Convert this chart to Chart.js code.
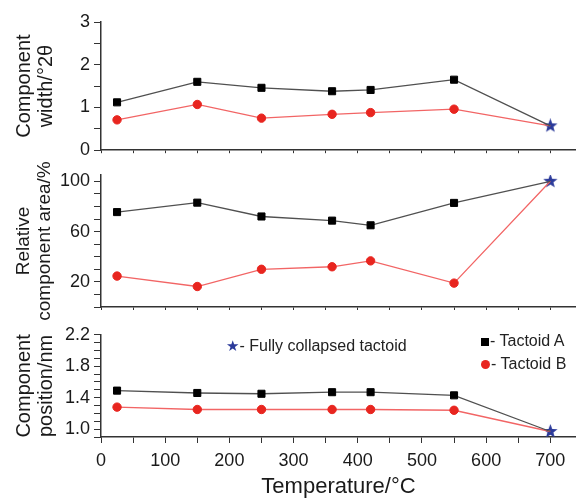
<!DOCTYPE html>
<html>
<head>
<meta charset="utf-8">
<script src="https://cdn.jsdelivr.net/npm/chart.js@4/dist/chart.umd.min.js"></script>
<style>
  body { margin: 0; width: 576px; height: 498px; position: relative; background: #fff; overflow: hidden;
         font-family: "Liberation Sans", Arial, sans-serif; }
  canvas { position: absolute; left: 0; }
  .leg { position: absolute; font-size: 16px; color: #222; white-space: nowrap; line-height: 18px; }
  .sq { display: inline-block; width: 8px; height: 8px; background: #000; margin-right: 1px; }
  .dot { display: inline-block; width: 9px; height: 9px; border-radius: 50%; background: #e8251f; margin-right: 1px; }
  .star { color: #2b3a9a; font-family: "DejaVu Sans"; font-size: 15px; }
</style>
</head>
<body>
<canvas id="c1" width="576" height="165" style="top:0"></canvas>
<canvas id="c2" width="576" height="175" style="top:150px"></canvas>
<canvas id="c3" width="576" height="178" style="top:320px"></canvas>

<div class="leg" style="left:226px; top:337px"><span class="star">★</span>- Fully collapsed tactoid</div>
<div class="leg" style="left:481px; top:332px"><span class="sq"></span>- Tactoid A</div>
<div class="leg" style="left:481px; top:355px"><span class="dot"></span>- Tactoid B</div>

<script>
// temperatures (°C), last point is the fully collapsed tactoid
const temps = [25, 150, 250, 360, 420, 550, 700];

const widthA = [1.12, 1.6, 1.46, 1.38, 1.41, 1.65, 0.57];
const widthB = [0.71, 1.07, 0.75, 0.84, 0.88, 0.96, 0.57];
const areaA = [75.5, 83, 72, 68.7, 65, 82.8, 100];
const areaB = [24.6, 16.3, 30, 32, 36.7, 19, 100];
const posA = [1.49, 1.46, 1.45, 1.47, 1.47, 1.43, 0.97];
const posB = [1.28, 1.25, 1.25, 1.25, 1.25, 1.24, 0.97];

// tick marks and labelled ticks
const tempTicks = [0, 50, 100, 150, 200, 250, 300, 350, 400, 450, 500, 550, 600, 650, 700];
const tempLabels = ["0", "100", "200", "300", "400", "500", "600", "700"];
const widthTicks = [0, 0.5, 1, 1.5, 2, 2.5, 3];
const widthLabels = ["0", "1", "2", "3"];
const areaTicks = [0, 10, 20, 30, 40, 50, 60, 70, 80, 90, 100];
const areaLabels = ["20", "60", "100"];
const posTicks = [0.9, 1.0, 1.1, 1.2, 1.3, 1.4, 1.5, 1.6, 1.7, 1.8, 1.9, 2.0, 2.1, 2.2];
const posLabels = ["1.0", "1.4", "1.8", "2.2"];

const FONT = "'Liberation Sans', Arial, sans-serif";
const INK = "#1a1a1a";

function makeStar(size, color) {
    const c = document.createElement("canvas");
    c.width = size; c.height = size;
    const g = c.getContext("2d");
    const r = size / 2, ri = r * 0.42;
    g.beginPath();
    for (let i = 0; i < 10; i++) {
        const a = -Math.PI / 2 + i * Math.PI / 5;
        const rr = i % 2 ? ri : r;
        g.lineTo(r + rr * Math.cos(a), r + rr * Math.sin(a));
    }
    g.closePath();
    g.fillStyle = color;
    g.fill();
    return c;
}
const starImg = makeStar(15, "#2b3a9a");

function pts(arr) {
    return temps.map((t, i) => ({ x: t, y: arr[i] }));
}

function buildChart(id, a, b, yMin, yMax, yTicks, yLabels, fmt, title, titleSize, top, xHeight, showX) {
    const last = temps.length - 1;
    const rA = temps.map((t, i) => (i === last ? 0 : 5));
    const rB = temps.map((t, i) => (i === last ? 0 : 4.2));
    return new Chart(document.getElementById(id), {
        type: "line",
        data: {
            datasets: [
                {
                    label: "Tactoid A",
                    data: pts(a),
                    borderColor: "#505050",
                    borderWidth: 1.3,
                    pointStyle: "rect",
                    pointRadius: rA,
                    pointBackgroundColor: "#000",
                    pointBorderColor: "#000",
                    pointBorderWidth: 1,
                },
                {
                    label: "Tactoid B",
                    data: pts(b),
                    borderColor: "#f26565",
                    borderWidth: 1.3,
                    pointStyle: "circle",
                    pointRadius: rB,
                    pointBackgroundColor: "#e8251f",
                    pointBorderColor: "#e8251f",
                    pointBorderWidth: 1,
                },
                {
                    label: "Fully collapsed tactoid",
                    data: [{ x: temps[last], y: a[last] }],
                    showLine: false,
                    pointStyle: starImg,
                    pointRadius: 7,
                },
            ],
        },
        options: {
            responsive: false,
            animation: false,
            layout: { autoPadding: false, padding: { top: top, left: 0, right: 0, bottom: 0 } },
            plugins: { legend: { display: false }, tooltip: { enabled: false } },
            scales: {
                x: {
                    type: "linear",
                    min: 0,
                    max: 740,
                    afterBuildTicks: (s) => { s.ticks = tempTicks.map((v) => ({ value: v })); },
                    afterFit: (s) => { s.height = xHeight; },
                    border: { display: true, color: "#333", width: 1.5 },
                    grid: { drawOnChartArea: false, tickLength: showX ? 6 : 3, color: "#333" },
                    ticks: {
                        display: showX,
                        autoSkip: false,
                        maxRotation: 0,
                        padding: 7,
                        color: INK,
                        font: { family: FONT, size: 18 },
                        callback: (v) => (tempLabels.includes(String(v)) ? String(v) : ""),
                    },
                    title: {
                        display: showX,
                        text: "Temperature/°C",
                        color: INK,
                        padding: 0,
                        font: { family: FONT, size: 22, lineHeight: 1 },
                    },
                },
                y: {
                    min: yMin,
                    max: yMax,
                    afterBuildTicks: (s) => { s.ticks = yTicks.map((v) => ({ value: v })); },
                    afterFit: (s) => { s.width = 101; },
                    border: { display: true, color: "#333", width: 1.5 },
                    grid: { drawOnChartArea: false, tickLength: 7, color: "#333" },
                    ticks: {
                        autoSkip: false,
                        padding: 4,
                        color: INK,
                        font: { family: FONT, size: 18 },
                        callback: (v) => (yLabels.includes(fmt(v)) ? fmt(v) : ""),
                    },
                    title: {
                        display: true,
                        text: title,
                        color: INK,
                        padding: { top: 14, bottom: 0 },
                        font: { family: FONT, size: titleSize, lineHeight: 1.08 },
                    },
                },
            },
        },
    });
}

buildChart("c1", widthA, widthB, 0, 3, widthTicks, widthLabels, (v) => String(v),
    ["Component", "width/°2θ"], 20, 22, 12, false);
buildChart("c2", areaA, areaB, 0, 105, areaTicks, areaLabels, (v) => String(v),
    ["Relative", "component area/%"], 19, 25, 18, false);
buildChart("c3", posA, posB, 0.9, 2.2, posTicks, posLabels, (v) => v.toFixed(1),
    ["Component", "position/nm"], 20, 13, 61, true);
</script>
</body>
</html>
